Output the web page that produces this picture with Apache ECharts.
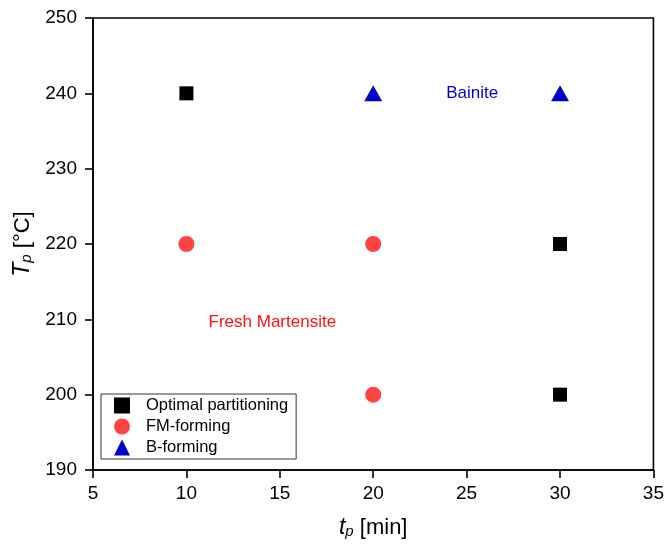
<!DOCTYPE html>
<html>
<head>
<meta charset="utf-8">
<script src="https://cdn.jsdelivr.net/npm/echarts@6/dist/echarts.min.js"></script>
<style>
  html, body { margin: 0; padding: 0; background: #fff; }
  #chart { width: 667px; height: 549px; }
</style>
</head>
<body>
<div id="chart"></div>
<script>
// Partitioning conditions: time t_p [min] vs temperature T_p [°C]
const optimalPartitioning = [[10, 240], [30, 220], [30, 200]];
const fmForming = [[10, 220], [20, 220], [20, 200]];
const bForming = [[20, 240], [30, 240]];

// Region labels placed in data coordinates
const regionLabels = [
  { name: 'Bainite', value: [25.3, 240], color: '#0000cc' },
  { name: 'Fresh Martensite', value: [14.6, 209.6], color: '#ff1010' }
];

const xTicks = [5, 10, 15, 20, 25, 30, 35];
const yTicks = [190, 200, 210, 220, 230, 240, 250];

const FONT = '"Liberation Sans", Arial, sans-serif';

const chart = echarts.init(document.getElementById('chart'), null, { renderer: 'canvas' });

const axisCommon = {
  axisLine: { show: true, onZero: false, lineStyle: { color: '#000', width: 1.6 } },
  axisTick: { show: true, inside: false, length: 8, lineStyle: { color: '#000', width: 1.6 } },
  splitLine: { show: false },
  axisLabel: { color: '#000', fontSize: 19, fontFamily: FONT }
};

function titleRich() {
  return {
    i: { fontSize: 23, fontStyle: 'italic', fontFamily: FONT, color: '#000', verticalAlign: 'bottom' },
    sub: { fontSize: 15, fontStyle: 'italic', fontFamily: FONT, color: '#000', verticalAlign: 'bottom', lineHeight: 14 },
    n: { fontSize: 22, fontFamily: FONT, color: '#000', verticalAlign: 'bottom' }
  };
}

chart.setOption({
  backgroundColor: '#fff',
  animation: false,
  grid: {
    left: 93, right: 13, top: 18, bottom: 79,
    show: true, borderColor: '#000', borderWidth: 1.6, backgroundColor: 'transparent'
  },
  xAxis: Object.assign({}, axisCommon, {
    type: 'value',
    min: xTicks[0], max: xTicks[xTicks.length - 1], interval: 5,
    axisLabel: Object.assign({}, axisCommon.axisLabel, { margin: 14 }),
    name: '{i|t}{sub|p}{n| [min]}',
    nameLocation: 'middle',
    nameGap: 46,
    nameTextStyle: { rich: titleRich() }
  }),
  yAxis: Object.assign({}, axisCommon, {
    type: 'value',
    min: yTicks[0], max: yTicks[yTicks.length - 1], interval: 10,
    axisLabel: Object.assign({}, axisCommon.axisLabel, { margin: 16 }),
    name: '{i|T}{sub|p}{n| [°C]}',
    nameLocation: 'middle',
    nameGap: 51,
    nameRotate: 90,
    nameTextStyle: { rich: titleRich() }
  }),
  legend: {
    orient: 'vertical',
    left: 101, top: 394,
    data: ['Optimal partitioning', 'FM-forming', 'B-forming'],
    itemWidth: 16, itemHeight: 16, itemGap: 4,
    padding: [3, 8, 3, 13],
    borderColor: '#333', borderWidth: 1,
    backgroundColor: '#fff',
    textStyle: { color: '#000', fontSize: 16.5, fontFamily: FONT, padding: [0, 0, 0, 11] }
  },
  series: [
    {
      name: 'Optimal partitioning', type: 'scatter', data: optimalPartitioning,
      symbol: 'rect', symbolSize: 14, itemStyle: { color: '#000', opacity: 1 }, z: 3
    },
    {
      name: 'FM-forming', type: 'scatter', data: fmForming,
      symbol: 'circle', symbolSize: 16, itemStyle: { color: '#ff4343', opacity: 1 }, z: 3
    },
    {
      name: 'B-forming', type: 'scatter', data: bForming,
      symbol: 'triangle', symbolSize: [18, 16], itemStyle: { color: '#0000c8', opacity: 1 }, z: 3
    },
    {
      name: 'regions', type: 'scatter', symbolSize: 0, silent: true,
      itemStyle: { opacity: 1 },
      data: regionLabels.map(r => ({
        value: r.value,
        label: { show: true, position: 'inside', formatter: r.name, color: r.color, fontSize: 17, fontFamily: FONT }
      }))
    }
  ]
});
</script>
</body>
</html>
